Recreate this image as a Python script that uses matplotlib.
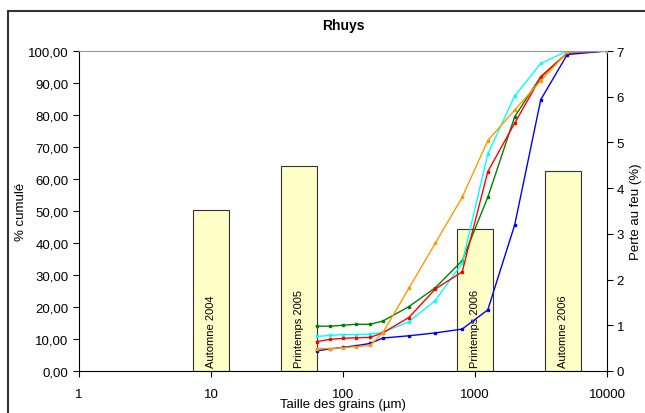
import numpy as np
import matplotlib
matplotlib.use('Agg')
import matplotlib.pyplot as plt
from matplotlib.patches import Rectangle
from matplotlib.ticker import FuncFormatter

plt.rcParams['font.family'] = ['Liberation Sans', 'DejaVu Sans']

# sieve sizes (um)
tailles = [63, 80, 100, 125, 160, 200, 315, 500, 800, 1250, 2000, 3150, 5000, 10000]

# cumulative % for each sample
vert = [14.0, 14.0, 14.3, 14.6, 14.6, 15.6, 20.1, 26.0, 34.5, 54.3, 79.5, 92.0, 99.4, 100]
cyan = [10.8, 11.1, 11.4, 11.4, 11.5, 12.1, 15.4, 22.0, 33.7, 67.8, 86.0, 96.1, 100, 100]
rouge = [9.2, 9.9, 10.2, 10.4, 10.5, 11.9, 16.7, 25.6, 31.0, 62.3, 77.5, 91.8, 99.4, 100]
bleu = [6.3, 6.9, 7.4, 7.9, 8.6, 10.3, 11.0, 11.9, 13.1, 19.1, 45.7, 84.8, 98.9, 100]
orange = [7.0, 7.0, 7.3, 7.6, 8.0, 11.9, 25.8, 39.9, 54.3, 72.0, 81.6, 90.7, 99.6, 100]

# loss on ignition, one bar per campaign (category axis with 6 slots)
campagnes = ['Automne 2004', 'Printemps 2005', 'Printemps 2006', 'Automne 2006']
cat_pos = [1, 2, 4, 5]
perte_feu = [3.53, 4.49, 3.10, 4.38]

fig = plt.figure(figsize=(6.45, 4.14), dpi=100)

# chart area border
fig.patches.append(Rectangle((8/645, -0.2), 1.2, 1 - 12/414 + 0.2, transform=fig.transFigure,
                             fill=False, edgecolor='#333333', linewidth=1.5))

pos = [79/645, 42/414, 528/645, 320/414]

# bars on secondary (right) axis
axb = fig.add_axes(pos)
axb.bar([c + 0.5 for c in cat_pos], perte_feu, width=0.41, color='#FFFFC8',
        edgecolor='#333333', linewidth=0.8, zorder=2)
for c, lab in zip(cat_pos, campagnes):
  axb.text(c + 0.5, 0.08, lab, rotation=90, ha='center', va='bottom', fontsize=8, zorder=3)
axb.set_xlim(0, 6)
axb.set_ylim(0, 7)
axb.xaxis.set_visible(False)
axb.yaxis.tick_right()
axb.yaxis.set_label_position('right')
axb.set_yticks(range(0, 8))
axb.tick_params(axis='y', direction='out', length=4, labelsize=9.5, pad=3)
axb.set_ylabel('Perte au feu (%)', fontsize=9.5, labelpad=4)
for sp in ['top', 'left', 'bottom']:
  axb.spines[sp].set_visible(False)

# cumulative curves on primary axis
ax = fig.add_axes(pos)
ax.set_zorder(axb.get_zorder() + 1)
ax.patch.set_visible(False)
series = [(vert, '#008000'), (cyan, '#00FFFF'), (rouge, '#FF0000'),
          (bleu, '#0000FF'), (orange, '#FF9900')]
for vals, col in series:
  ax.plot(tailles, vals, color=col, linewidth=1, marker='s', markersize=2)

ax.set_xscale('log')
ax.set_xlim(1, 10000)
ax.set_ylim(0, 100)
ax.set_xticks([1, 10, 100, 1000, 10000])
ax.set_xticklabels(['1', '10', '100', '1000', '10000'])
ax.xaxis.set_minor_locator(matplotlib.ticker.NullLocator())
ax.set_yticks(np.arange(0, 101, 10))
ax.yaxis.set_major_formatter(FuncFormatter(lambda v, p: '{:.2f}'.format(v).replace('.', ',')))
ax.tick_params(axis='both', direction='out', length=4, labelsize=9.5)
ax.tick_params(axis='x', pad=8)
ax.spines['right'].set_visible(False)
ax.spines['top'].set_color('#999999')
ax.set_xlabel('Taille des grains (µm)', fontsize=9.5, labelpad=-1)
ax.set_ylabel('% cumulé', fontsize=9.5, labelpad=1)
ax.set_title('Rhuys', fontsize=10, fontweight='bold', pad=16)

fig.savefig('out.png', dpi=100)
